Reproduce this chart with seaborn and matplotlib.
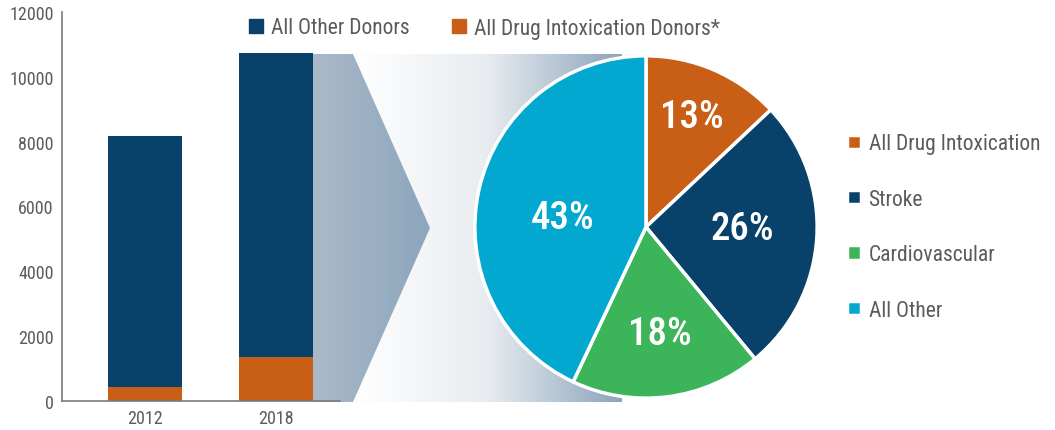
import numpy as np
import pandas as pd
import seaborn as sns
import matplotlib.pyplot as plt
from matplotlib import font_manager
from matplotlib.patches import Patch, Polygon
from matplotlib.colors import LinearSegmentedColormap

# ----------------------------------------------------
# Data
# ----------------------------------------------------
years = ["2012", "2018"]
total_donors = [8170, 10750]       # all donors (top of stacked bar)
drug_donors = [420, 1350]          # drug intoxication donors

causes = ["All Drug Intoxication", "Stroke", "Cardiovascular", "All Other"]
cause_share = [13, 26, 18, 43]     # 2018 mechanism of death, %

bar_legend = ["All Other Donors", "All Drug Intoxication Donors*"]

navy = "#08426a"
orange = "#c95f16"
green = "#3cb45a"
cyan = "#03a8d0"
grey = "#5b5b5b"
axis_grey = "#7a7a7a"

sns.set_style("white")

# condensed sans, with fallbacks
installed = {f.name for f in font_manager.fontManager.ttflist}
wanted = ["Roboto Condensed", "Archivo Narrow", "Asap Condensed", "Barlow Semi Condensed"]
narrow = [f for f in wanted if f in installed]
plt.rcParams["font.family"] = narrow[:1] + ["Liberation Sans", "DejaVu Sans"]

fig = plt.figure(figsize=(10.55, 4.31), dpi=100)

# ----------------------------------------------------
# Background "zoom" band between the 2018 bar and the pie (pixel coords)
# ----------------------------------------------------
bg = fig.add_axes([0, 0, 1, 1], zorder=0)

steel = LinearSegmentedColormap.from_list("steel", ["#ffffff", "#e8ecf0", "#8aa4bb"])
chev = LinearSegmentedColormap.from_list("chev", ["#aab9c8", "#8ca6bd"])
grad = np.linspace(0, 1, 256).reshape(1, -1)

band = bg.imshow(grad, cmap=steel, extent=(353, 622, 403, 55), aspect="auto")
band.set_clip_path(Polygon([(353, 55), (622, 55), (622, 403), (353, 403), (430, 229)],
                           transform=bg.transData))
arrow = bg.imshow(grad, cmap=chev, extent=(313, 430, 403, 55), aspect="auto")
arrow.set_clip_path(Polygon([(313, 55), (353, 55), (430, 229), (353, 403), (313, 403)],
                            transform=bg.transData))
bg.set_xlim(0, 1055)
bg.set_ylim(431, 0)
bg.axis("off")

# ----------------------------------------------------
# Stacked bars
# ----------------------------------------------------
ax = fig.add_axes([62 / 1055, 29 / 431, 278 / 1055, 389 / 431], zorder=2)
ax.patch.set_alpha(0)

df = pd.DataFrame({"year": years, "total": total_donors, "drug": drug_donors})
sns.barplot(data=df, x="year", y="total", color=navy, saturation=1, width=0.565,
            linewidth=0, ax=ax)
sns.barplot(data=df, x="year", y="drug", color=orange, saturation=1, width=0.565,
            linewidth=0, ax=ax)

ax.set_xlim(-0.634, 1.489)
ax.set_ylim(0, 12000)
ax.set_yticks(range(0, 12001, 2000))
ax.set_xlabel("")
ax.set_ylabel("")
for side in ["top", "right"]:
    ax.spines[side].set_visible(False)
for side in ["left", "bottom"]:
    ax.spines[side].set_color(axis_grey)
    ax.spines[side].set_linewidth(1.2)

ax.tick_params(axis="y", direction="in", length=9, width=1.2, color=axis_grey,
               labelsize=13, labelcolor=grey, pad=6)
ax.tick_params(axis="x", which="major", length=0, labelsize=13, labelcolor=grey, pad=6)
ax.set_xticks([0.5, 1.485], minor=True)
ax.tick_params(axis="x", which="minor", direction="in", length=8, width=1.2, color=axis_grey)

fig.legend(handles=[Patch(color=navy), Patch(color=orange)], labels=bar_legend,
           loc="center left", bbox_to_anchor=(249 / 1055, 1 - 29 / 431), ncol=2,
           frameon=False, fontsize=15.5, labelcolor=grey, handlelength=0.65,
           handleheight=0.65, handletextpad=0.35, columnspacing=2.0,
           borderpad=0, borderaxespad=0)

# ----------------------------------------------------
# Pie
# ----------------------------------------------------
pax = fig.add_axes([474 / 1055, 31 / 431, 344 / 1055, 344 / 431], zorder=3)
wedges, texts, autotexts = pax.pie(
    cause_share,
    colors=[orange, navy, green, cyan],
    startangle=90,
    counterclock=False,
    autopct=lambda p: f"{p:.0f}%",
    wedgeprops=dict(edgecolor="white", linewidth=2.5),
    textprops=dict(color="white", fontsize=28, fontweight="medium"),
)
label_pos = [(0.27, 0.645), (0.56, -0.01), (0.08, -0.62), (-0.49, 0.055)]
for t, pos in zip(autotexts, label_pos):
    t.set_position(pos)
pax.set_xlim(-1.005, 1.005)
pax.set_ylim(-1.005, 1.005)

pax.legend(wedges, causes, loc="center left", bbox_to_anchor=(847 / 1055, 1 - 228 / 431),
           bbox_transform=fig.transFigure, frameon=False, fontsize=15.5, labelcolor=grey,
           handlelength=0.65, handleheight=0.65, handletextpad=0.35, labelspacing=1.6,
           borderpad=0, borderaxespad=0)

plt.savefig("out.png", dpi=100)
plt.close()
